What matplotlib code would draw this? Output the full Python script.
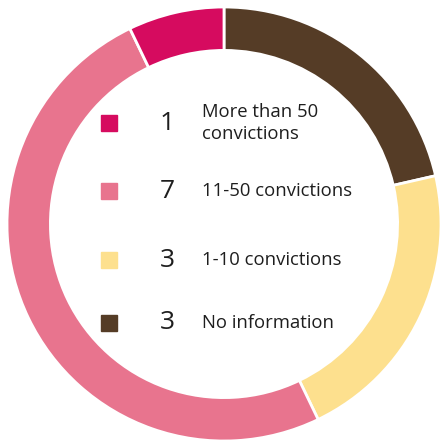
import matplotlib.pyplot as plt
from matplotlib.patches import Rectangle

# legend order (top to bottom)
labels = ["More than 50\nconvictions", "11-50 convictions", "1-10 convictions", "No information"]
counts = [1, 7, 3, 3]
colors = ["#D60B5F", "#E8748E", "#FDE08E", "#553C26"]

plt.rcParams["font.family"] = ["Open Sans", "DejaVu Sans"]

fig = plt.figure(figsize=(4.40, 4.41), dpi=100)
ax = fig.add_axes([0, 0, 1, 1])

# ring drawn clockwise from the top, starting with "No information"
ring_vals = counts[::-1]
ring_cols = colors[::-1]
ax.pie(ring_vals, colors=ring_cols, startangle=90, counterclock=False,
       radius=1.0, wedgeprops=dict(width=0.2, edgecolor="white", linewidth=2))

# legend inside the ring
ys = [0.465, 0.152, -0.166, -0.456]
sq = 0.074
for y, n, lab, c in zip(ys, counts, labels, colors):
    ax.add_patch(Rectangle((-0.53 - sq / 2, y - sq / 2), sq, sq, color=c))
    ax.text(-0.263, y, str(n), fontsize=19, ha="center", va="center", color="#1e1e1e")
    ax.text(-0.101, y, lab, fontsize=13.3, ha="left", va="center", color="#1e1e1e",
            linespacing=1.25)

ax.set_xlim(-224 / 217, 216 / 217)
ax.set_ylim(-217 / 217, 224 / 217)
ax.set_aspect("auto")
ax.axis("off")

plt.savefig("out.png", dpi=100)
